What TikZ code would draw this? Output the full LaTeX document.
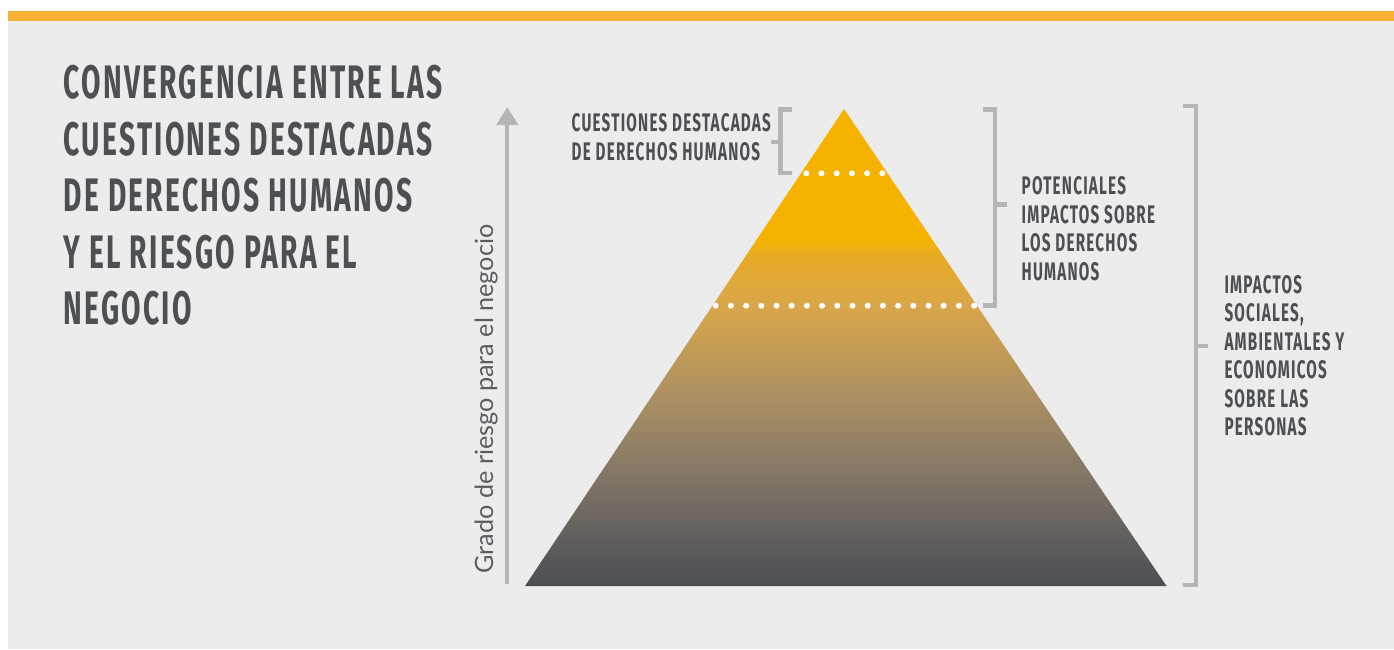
\documentclass[tikz,border=0pt]{standalone}
\usepackage{fontspec}
\setmainfont{Fira Sans}
\newfontfamily\condfont[FakeStretch=0.6,LetterSpace=4.8]{Fira Sans}
\newfontfamily\axisfont{Lato}
\usetikzlibrary{arrows.meta}
\definecolor{bg}{HTML}{ECECEC}
\definecolor{barorange}{HTML}{F7B233}
\definecolor{txt}{HTML}{4C4F54}
\definecolor{axtxt}{HTML}{5A5D61}
\definecolor{brk}{HTML}{B5B5B5}
\definecolor{pyor}{HTML}{F5B300}
\definecolor{pyc4}{HTML}{E8AA25}
\definecolor{pyc3}{HTML}{D9A64A}
\definecolor{pyc2}{HTML}{A98F63}
\definecolor{pyc1}{HTML}{7F7466}
\definecolor{pyc0}{HTML}{56575A}
\definecolor{pydark}{HTML}{4B4E53}
\pgfdeclareverticalshading{pyrshade}{100bp}{color(0bp)=(pydark); color(25bp)=(pydark); color(27.7bp)=(pyc0); color(36.1bp)=(pyc1); color(44.5bp)=(pyc2); color(54.4bp)=(pyc3); color(59.6bp)=(pyc4); color(61.4bp)=(pyor); color(100bp)=(pyor)}
\tikzset{
  title/.style={anchor=north west, inner sep=0pt, align=left, text=txt,
    font=\condfont\bfseries\fontsize{47}{56.5}\selectfont},
  label/.style={anchor=north west, inner sep=0pt, align=left, text=txt,
    font=\condfont\bfseries\fontsize{25.4}{28.5}\selectfont},
  bracket/.style={draw=brk, line width=4.3pt, line join=miter, line cap=butt},
  dot/.style={fill=white},
}
\begin{document}
\begin{tikzpicture}[x=1pt,y=-1pt]
\useasboundingbox (0,0) rectangle (1394,649);
\fill[bg] (8,11) rectangle (1394,649);
\fill[barorange] (8,11) rectangle (1394,21);

% title
\node[title] (ttl) at (63.5,65) {CONVERGENCIA ENTRE LAS\\CUESTIONES DESTACADAS\\DE DERECHOS HUMANOS\\Y EL RIESGO PARA EL\\NEGOCIO};

% pyramid
\coordinate (apex) at (844,109);
\coordinate (bl) at (525,586);
\coordinate (br) at (1166.5,586);
\shade[shading=pyrshade] (apex) -- (br) -- (bl) -- cycle;

% dotted separators
\foreach \i in {0,...,5} \fill[dot] (806.3+15.2*\i,173.3) circle[radius=3pt];
\foreach \i in {0,...,17} \fill[dot] (715.7+15.2*\i,305.7) circle[radius=3pt];

% axis
\coordinate (axbot) at (507.3,583.5);
\coordinate (axtop) at (507.3,107);
\draw[draw=brk, line width=4.3pt, -{Triangle[width=21pt,length=18pt]}] (axbot) -- (axtop);
\node[rotate=90, anchor=base west, inner sep=0pt, text=axtxt,
  font=\axisfont\fontsize{25.2}{30}\selectfont] (axlbl) at (493,573.5) {Grado de riesgo para el negocio};

% bracket 1
\coordinate (b1a) at (792.3,109.5);
\coordinate (b1b) at (792.3,173.2);
\coordinate (b1m) at (780.5,142);
\draw[bracket] (b1a) -- (780.5,109.5) -- (780.5,173.2) -- (b1b);
\draw[bracket] (b1m) -- (770.7,142);
\node[label] (lbl1) at (571.5,113.3) {CUESTIONES DESTACADAS\\DE DERECHOS HUMANOS};

% bracket 2
\coordinate (b2a) at (983.3,109.5);
\coordinate (b2b) at (983.3,305.5);
\coordinate (b2m) at (995.3,204.6);
\draw[bracket] (b2a) -- (995.3,109.5) -- (995.3,305.5) -- (b2b);
\draw[bracket] (b2m) -- (1007.3,204.6);
\node[label] (lbl2) at (1021.5,176.7) {POTENCIALES\\IMPACTOS SOBRE\\LOS DERECHOS\\HUMANOS};

% bracket 3
\coordinate (b3a) at (1183.3,106.2);
\coordinate (b3b) at (1183.3,585.2);
\coordinate (b3m) at (1195.8,345.7);
\draw[bracket] (b3a) -- (1195.8,106.2) -- (1195.8,585.2) -- (b3b);
\draw[bracket] (b3m) -- (1208,345.7);
\node[label] (lbl3) at (1224.3,275) {IMPACTOS\\SOCIALES,\\AMBIENTALES Y\\ECONOMICOS\\SOBRE LAS\\PERSONAS};
\end{tikzpicture}
\end{document}
